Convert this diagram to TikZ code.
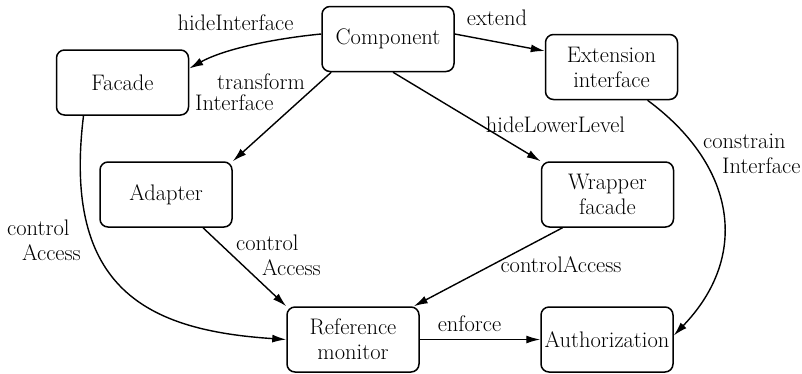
\documentclass[tikz,border=0pt]{standalone}
\usetikzlibrary{arrows.meta}

\tikzset{
  box/.style={draw, line width=1.5pt, rounded corners=8pt, minimum width=132pt,
              minimum height=65pt, inner sep=0pt, align=center,
              font=\fontsize{22.5}{25}\selectfont},
  edge/.style={line width=1.4pt, -{Latex[length=14pt,width=8pt]}},
  lbl/.style={inner sep=0pt, align=left, font=\fontsize{22.5}{25}\selectfont}
}

\begin{document}
\begin{tikzpicture}[x=1pt,y=1pt]
  \useasboundingbox (0,0) rectangle (802,-373);

  % components
  \node[box] (comp) at (388,-39)     {Component};
  \node[box] (fac)  at (122.5,-82.5) {Facade};
  \node[box] (ext)  at (611.5,-67)   {Extension\\interface};
  \node[box] (adp)  at (166,-194.5)  {Adapter};
  \node[box] (wrp)  at (607.5,-194.5){Wrapper\\facade};
  \node[box] (ref)  at (353,-339.5)  {Reference\\monitor};
  \node[box] (aut)  at (607,-339.5)  {Authorization};

  % relations
  \draw[edge] ([yshift=5pt]comp.west) .. controls +(-42,-4) and +(36.5,20.5) .. ([yshift=14pt]fac.east);
  \draw[edge] ([yshift=5pt]comp.east) -- ([yshift=16pt]ext.west);
  \draw[edge] ([xshift=10pt]comp.south west) -- (adp.north east);
  \draw[edge] ([xshift=5pt]comp.south) -- (wrp.north west);
  \draw[edge] ([xshift=36pt]ext.south) .. controls +(88,-65) and +(77,80) .. ([yshift=4pt]aut.east);
  \draw[edge] ([xshift=-39pt]fac.south) .. controls +(-21.5,-175) and +(-137,9) .. (ref.west);
  \draw[edge] ([xshift=37pt]adp.south) -- (ref.north west);
  \draw[edge] ([xshift=-45pt]wrp.south) -- ([xshift=-6pt]ref.north east);
  \draw[edge] (ref.east) -- (aut.west);

  % relation labels (base = baseline of the last line)
  \node[lbl, anchor=base] (l1) at (235.5,-30) {hideInterface};
  \node[lbl, anchor=base] (l2) at (497,-25) {extend};
  \node[lbl, anchor=base west] (l3) at (195,-110) {\hspace*{22pt}transform\\[-4pt]Interface};
  \node[lbl, anchor=base] (l4) at (555.5,-132) {hideLowerLevel};
  \node[lbl, anchor=base west] (l5) at (703,-173) {constrain\\\hspace*{19pt}Interface};
  \node[lbl, anchor=base west] (l6) at (7,-260.5) {control\\\hspace*{15pt}Access};
  \node[lbl, anchor=base west] (l7) at (236,-275) {control\\\hspace*{26pt}Access};
  \node[lbl, anchor=base] (l8) at (561,-272.5) {controlAccess};
  \node[lbl, anchor=base] (l9) at (469.5,-331.5) {enforce};
\end{tikzpicture}
\end{document}
